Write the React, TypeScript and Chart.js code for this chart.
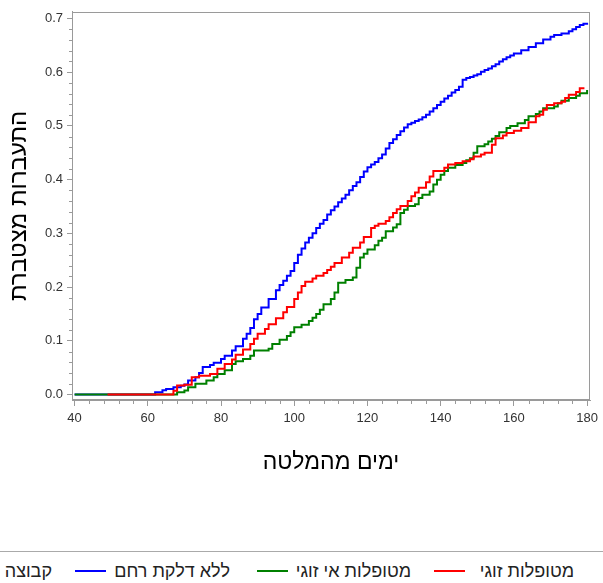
import React, { useEffect, useRef } from 'react';
import { Chart, registerables } from 'chart.js';
Chart.register(...registerables);

// ---- Data (days after calving, cumulative conception proportion) ----
const blueDays = [40, 61, 62, 64, 65, 67, 69, 70, 71, 73, 74, 75, 77, 78, 80, 81, 83, 84, 86, 87, 88, 89, 90, 91, 93, 95, 96, 97, 98, 99, 100, 101, 102, 103, 104, 105, 106, 107, 108, 109, 110, 111, 112, 113, 114, 115, 116, 117, 118, 119, 120, 121, 122, 123, 124, 125, 126, 127, 128, 129, 130, 131, 132, 133, 134, 135, 136, 137, 138, 139, 140, 141, 142, 143, 144, 145, 146, 147, 148, 149, 150, 151, 152, 153, 154, 155, 156, 157, 158, 159, 160, 162, 164, 166, 168, 170, 171, 173, 175, 176, 177, 178, 179, 180];
const blueVals = [0, 0, 0.004, 0.008, 0.0105, 0.0135, 0.0165, 0.0185, 0.026, 0.032, 0.04, 0.051, 0.055, 0.059, 0.066, 0.072, 0.082, 0.09, 0.104, 0.113, 0.124, 0.14, 0.15, 0.162, 0.178, 0.194, 0.204, 0.212, 0.221, 0.23, 0.245, 0.26, 0.272, 0.283, 0.292, 0.3, 0.31, 0.318, 0.325, 0.335, 0.343, 0.35, 0.358, 0.365, 0.372, 0.38, 0.388, 0.395, 0.405, 0.415, 0.423, 0.428, 0.433, 0.44, 0.447, 0.458, 0.468, 0.475, 0.483, 0.49, 0.497, 0.503, 0.506, 0.509, 0.512, 0.516, 0.521, 0.527, 0.533, 0.539, 0.545, 0.551, 0.556, 0.562, 0.567, 0.573, 0.586, 0.589, 0.591, 0.594, 0.596, 0.601, 0.604, 0.607, 0.611, 0.615, 0.62, 0.624, 0.628, 0.631, 0.635, 0.641, 0.647, 0.654, 0.661, 0.666, 0.669, 0.672, 0.676, 0.68, 0.684, 0.688, 0.69, 0.692];

const greenDays = [40, 67, 68, 70, 71, 73, 76, 78, 79, 81, 83, 84, 86, 88, 89, 93, 94, 96, 98, 99, 100, 102, 104, 105, 106, 107, 108, 110, 111, 112, 114, 116, 117, 118, 119, 120, 122, 123, 124, 125, 127, 128, 129, 130, 131, 133, 134, 135, 137, 138, 139, 140, 141, 142, 144, 146, 147, 148, 149, 150, 152, 153, 154, 155, 156, 158, 159, 161, 163, 164, 166, 167, 168, 171, 172, 173, 175, 177, 178, 180];
const greenVals = [0, 0, 0.004, 0.0074, 0.0135, 0.02, 0.026, 0.032, 0.038, 0.045, 0.057, 0.062, 0.066, 0.072, 0.082, 0.085, 0.094, 0.102, 0.109, 0.116, 0.125, 0.13, 0.137, 0.143, 0.15, 0.158, 0.168, 0.178, 0.19, 0.208, 0.213, 0.218, 0.236, 0.255, 0.262, 0.27, 0.278, 0.286, 0.292, 0.304, 0.311, 0.317, 0.338, 0.344, 0.351, 0.354, 0.366, 0.372, 0.378, 0.391, 0.4, 0.409, 0.416, 0.422, 0.427, 0.431, 0.436, 0.44, 0.45, 0.462, 0.466, 0.471, 0.476, 0.481, 0.488, 0.496, 0.5, 0.505, 0.511, 0.518, 0.522, 0.527, 0.533, 0.536, 0.542, 0.547, 0.552, 0.556, 0.561, 0.567];

const redDays = [49, 66, 67, 68, 70, 72, 74, 77, 79, 81, 83, 84, 86, 88, 89, 90, 92, 93, 95, 97, 98, 100, 101, 102, 103, 105, 106, 108, 109, 110, 111, 113, 115, 116, 118, 119, 121, 122, 123, 125, 126, 127, 128, 129, 131, 132, 133, 134, 136, 137, 138, 141, 142, 144, 146, 148, 149, 151, 152, 154, 155, 157, 158, 160, 162, 164, 166, 167, 168, 169, 171, 173, 174, 175, 177, 178, 179];
const redVals = [0, 0, 0.007, 0.017, 0.018, 0.032, 0.035, 0.038, 0.048, 0.057, 0.065, 0.074, 0.084, 0.094, 0.104, 0.113, 0.122, 0.131, 0.142, 0.153, 0.163, 0.178, 0.19, 0.202, 0.21, 0.216, 0.221, 0.226, 0.232, 0.238, 0.245, 0.255, 0.264, 0.273, 0.283, 0.293, 0.31, 0.314, 0.318, 0.323, 0.33, 0.338, 0.345, 0.351, 0.36, 0.369, 0.376, 0.385, 0.395, 0.406, 0.416, 0.422, 0.428, 0.431, 0.434, 0.438, 0.443, 0.447, 0.45, 0.465, 0.477, 0.482, 0.487, 0.491, 0.496, 0.507, 0.518, 0.521, 0.53, 0.539, 0.542, 0.545, 0.552, 0.558, 0.563, 0.57, 0.572];

const seriesNames = ['ללא דלקת רחם', 'מטופלות אי זוגי', 'מטופלות זוגי'];
const seriesColors = ['#0000FF', '#008000', '#FF0000'];
const legendTitle = 'קבוצה';
const xTitle = 'ימים מהמלטה';
const yTitle = 'התעברות מצטברת';
const xMajorTicks = [40, 60, 80, 100, 120, 140, 160, 180];
const yMajorTicks = [0, 0.1, 0.2, 0.3, 0.4, 0.5, 0.6, 0.7];

const FONT = "'Liberation Sans', Arial, sans-serif";
const AXIS_GRAY = '#9a9a9a';

const toPts = (d: number[], v: number[]) => d.map((x, i) => ({ x, y: v[i] }));

const frameAndMinorTicks = {
  id: 'frameAndMinorTicks',
  afterDraw(chart: any) {
    const { ctx, chartArea, scales } = chart;
    ctx.save();
    ctx.strokeStyle = AXIS_GRAY;
    ctx.lineWidth = 1;
    ctx.strokeRect(Math.round(chartArea.left) + 0.5, Math.round(chartArea.top) + 0.5,
      Math.round(chartArea.right - chartArea.left) - 1, Math.round(chartArea.bottom - chartArea.top) - 1);
    ctx.beginPath();
    const xs = scales.x;
    for (let d = 40; d <= 180; d += 4) {
      if (d % 20 === 0) continue;
      const px = Math.round(xs.getPixelForValue(d)) + 0.5;
      ctx.moveTo(px, chartArea.bottom);
      ctx.lineTo(px, chartArea.bottom + 4);
    }
    const ys = scales.y;
    for (let k = 0; k <= 35; k++) {
      if (k % 5 === 0) continue;
      const py = Math.round(ys.getPixelForValue(k * 0.02)) + 0.5;
      ctx.moveTo(chartArea.left, py);
      ctx.lineTo(chartArea.left - 3, py);
    }
    ctx.stroke();
    ctx.restore();
  },
};

export default function App() {
  const ref = useRef<HTMLCanvasElement>(null);
  useEffect(() => {
    if (!ref.current) return;
    const chart = new Chart(ref.current, {
      type: 'line',
      data: {
        datasets: [
          { label: seriesNames[0], data: toPts(blueDays, blueVals), borderColor: seriesColors[0], order: 2 },
          { label: seriesNames[1], data: toPts(greenDays, greenVals), borderColor: seriesColors[1], order: 1 },
          { label: seriesNames[2], data: toPts(redDays, redVals), borderColor: seriesColors[2], order: 0 },
        ].map((d) => ({ ...d, stepped: true, pointRadius: 0, borderWidth: 2, fill: false, tension: 0 })) as any,
      },
      options: {
        animation: false,
        responsive: false,
        devicePixelRatio: 1,
        layout: { padding: { top: 10, right: 11, left: 0, bottom: 0 } },
        plugins: { legend: { display: false }, tooltip: { enabled: false } },
        scales: {
          x: {
            type: 'linear',
            min: 39.29,
            max: 180.82,
            afterFit: (s: any) => { s.height = 140; },
            afterBuildTicks: (s: any) => { s.ticks = xMajorTicks.map((v) => ({ value: v })); },
            ticks: { color: '#333', font: { family: FONT, size: 13 }, padding: 5, maxRotation: 0, autoSkip: false },
            grid: { drawOnChartArea: false, drawTicks: true, tickLength: 6, color: AXIS_GRAY },
            border: { color: AXIS_GRAY },
            title: { display: true, text: xTitle, color: '#000', font: { family: FONT, size: 23 }, padding: { top: 0, bottom: 64 } },
          },
          y: {
            type: 'linear',
            min: -0.0102,
            max: 0.7124,
            afterFit: (s: any) => { s.width = 72; },
            afterBuildTicks: (s: any) => { s.ticks = yMajorTicks.map((v) => ({ value: v })); },
            ticks: { color: '#333', font: { family: FONT, size: 13 }, padding: 4, autoSkip: false, callback: (v: any) => Number(v).toFixed(1) },
            grid: { drawOnChartArea: false, drawTicks: true, tickLength: 5, color: AXIS_GRAY },
            border: { color: AXIS_GRAY },
            title: { display: true, text: yTitle, color: '#000', font: { family: FONT, size: 24 }, padding: { top: 5, bottom: 0 } },
          },
        },
      },
      plugins: [frameAndMinorTicks],
    });
    return () => chart.destroy();
  }, []);

  const textStyle = (rightEdge: number): React.CSSProperties => ({
    position: 'absolute', top: 560, right: 603 - rightEdge, fontFamily: FONT, fontSize: 18,
    color: '#222', whiteSpace: 'nowrap', lineHeight: '22px',
  });
  const lineStyle = (left: number, color: string): React.CSSProperties => ({ position: 'absolute', top: 570, left, width: 31, height: 2, background: color });

  return (
    <div style={{ position: 'absolute', left: 0, top: 0, width: 603, height: 583, background: '#fff', overflow: 'hidden' }}>
      <canvas ref={ref} width={603} height={540} style={{ position: 'absolute', left: 0, top: 0 }} />
      <div style={{ position: 'absolute', left: 0, top: 551, width: 603, height: 1, background: '#aaa' }} />
      <span dir="rtl" style={textStyle(52)}>{legendTitle}</span>
      <div style={lineStyle(75, seriesColors[0])} />
      <span dir="rtl" style={textStyle(230)}>{seriesNames[0]}</span>
      <div style={lineStyle(257, seriesColors[1])} />
      <span dir="rtl" style={textStyle(411)}>{seriesNames[1]}</span>
      <div style={lineStyle(434, seriesColors[2])} />
      <span dir="rtl" style={textStyle(574)}>{seriesNames[2]}</span>
    </div>
  );
}
